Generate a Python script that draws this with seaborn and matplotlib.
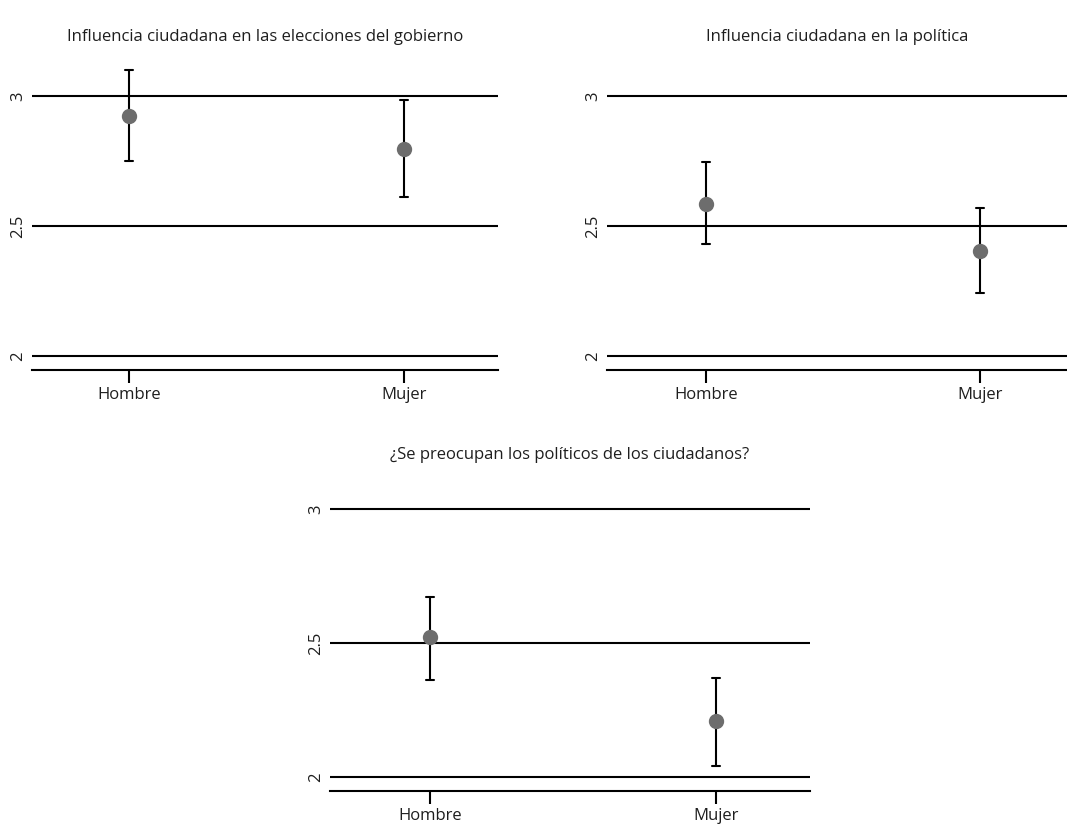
import numpy as np
import pandas as pd
import matplotlib
matplotlib.use("Agg")
import matplotlib.pyplot as plt
import seaborn as sns

# Group means with 95% confidence limits
sexo = ["Hombre", "Mujer"]

elecciones_media = [2.923, 2.796]
elecciones_inf = [2.750, 2.612]
elecciones_sup = [3.100, 2.985]

politica_media = [2.585, 2.404]
politica_inf = [2.431, 2.242]
politica_sup = [2.746, 2.569]

preocupan_media = [2.522, 2.209]
preocupan_inf = [2.362, 2.041]
preocupan_sup = [2.672, 2.369]

titulos = [
    "Influencia ciudadana en las elecciones del gobierno",
    "Influencia ciudadana en la política",
    "¿Se preocupan los políticos de los ciudadanos?",
]
yticks = [2, 2.5, 3]
ytick_labels = ["2", "2.5", "3"]

sns.set_theme(style="white")
plt.rcParams["font.family"] = ["Open Sans", "DejaVu Sans"]

TXT = "#1e1e1e"
FS = 12

W, H = 1067, 824
fig = plt.figure(figsize=(W / 100, H / 100), dpi=100)


def long_form(media, inf, sup):
    rows = []
    for s, m, lo, hi in zip(sexo, media, inf, sup):
        for v in (lo, m, hi):
            rows.append({"sexo": s, "valor": v})
    return pd.DataFrame(rows)


def panel(px_left, px_right, px_top, px_bottom, ylim, xlim, datos, titulo, title_y):
    ax = fig.add_axes([px_left / W, 1 - px_bottom / H,
                       (px_right - px_left) / W, (px_bottom - px_top) / H])
    df = long_form(*datos)
    for t in yticks:
        ax.axhline(t, color="black", lw=1.5, zorder=0)
    sns.pointplot(data=df, x="sexo", y="valor", order=sexo, ax=ax,
                  estimator="median", errorbar=("pi", 100),
                  linestyle="none", color="#6d6d6d", markersize=9,
                  capsize=0.03, err_kws={"color": "black", "linewidth": 1.5},
                  zorder=3)
    # error bars behind markers
    for ln in ax.lines:
        if ln.get_marker() in (None, "None", "", " "):
            ln.set_zorder(2)
    ax.set_ylim(*ylim)
    ax.set_xlim(*xlim)
    ax.set_yticks(yticks)
    ax.set_yticklabels(ytick_labels, rotation=90, va="center", fontsize=FS, color=TXT)
    ax.tick_params(axis="y", length=0, pad=4)
    ax.tick_params(axis="x", length=9, width=1.5, color="black", pad=3,
                   labelsize=FS, labelcolor=TXT, bottom=True)
    for side in ("left", "right", "top"):
        ax.spines[side].set_visible(False)
    ax.spines["bottom"].set_color("black")
    ax.spines["bottom"].set_linewidth(1.5)
    ax.set_xlabel("")
    ax.set_ylabel("")
    ax.grid(False)
    fig.text((px_left + px_right) / 2 / W, 1 - title_y / H, titulo,
             ha="center", va="center", fontsize=FS, color=TXT)
    return ax


panel(32, 498, 60, 370, (1.946, 3.138), (-0.353, 1.342),
      (elecciones_media, elecciones_inf, elecciones_sup), titulos[0], 37)
panel(607, 1067, 60, 370, (1.946, 3.138), (-0.361, 1.318),
      (politica_media, politica_inf, politica_sup), titulos[1], 37)
panel(330, 810, 490, 791, (1.948, 3.071), (-0.350, 1.329),
      (preocupan_media, preocupan_inf, preocupan_sup), titulos[2], 455)

fig.savefig("out.png", dpi=100, facecolor="white")
